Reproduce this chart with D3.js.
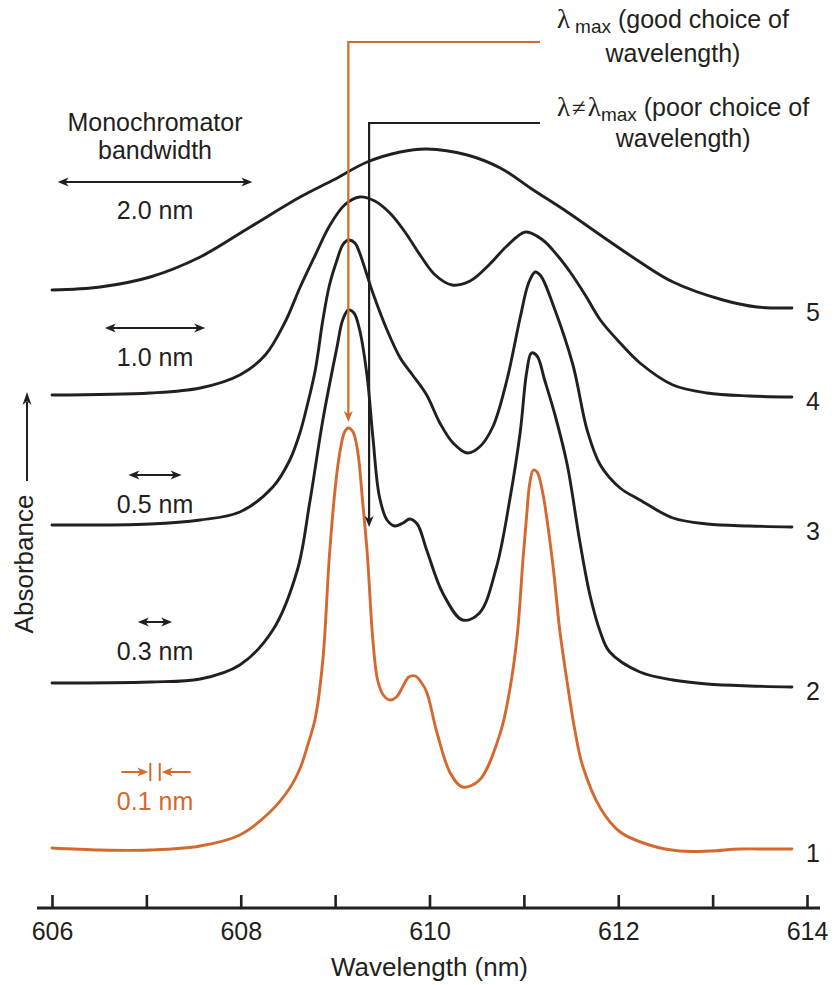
<!DOCTYPE html>
<html><head><meta charset="utf-8">
<script src="https://cdn.jsdelivr.net/npm/d3@7"></script>
<style>
body{margin:0;background:#fff}
svg{display:block}
text{font-family:"Liberation Sans",Arial,Helvetica,sans-serif;fill:#231f20}
</style>
</head><body>
<svg id="c" width="840" height="985"></svg>
<script>
// ---------------- DATA ----------------
const wavelengthTicks = [606, 607, 608, 609, 610, 611, 612, 613, 614];
const tickLabels = [606, 608, 610, 612, 614];
const xTitle = "Wavelength (nm)";
const yTitle = "Absorbance";
const curveNames = ["1", "2", "3", "4", "5"];
const bandwidthValues = [0.1, 0.3, 0.5, 1.0, 2.0];
const bandwidthLabels = ["0.1 nm", "0.3 nm", "0.5 nm", "1.0 nm", "2.0 nm"];
const lambdaMax = 609.14;
const lambdaPoor = 609.36;
const lambdaPoorTipA = 3.81;

// [wavelength nm, absorbance (arbitrary, offset)]
const curve1 = [[606.00,0.60],[606.51,0.58],[607.04,0.58],[607.57,0.62],[607.99,0.73],[608.31,0.96],[608.52,1.20],[608.63,1.40],[608.71,1.63],[608.79,1.90],[608.87,2.48],[608.94,3.53],[609.01,4.28],[609.06,4.61],[609.10,4.76],[609.14,4.80],[609.19,4.76],[609.24,4.56],[609.29,4.08],[609.34,3.55],[609.40,2.68],[609.45,2.28],[609.51,2.13],[609.58,2.08],[609.65,2.11],[609.72,2.22],[609.78,2.31],[609.85,2.32],[609.91,2.26],[609.97,2.16],[610.08,1.75],[610.22,1.35],[610.35,1.21],[610.53,1.28],[610.75,1.75],[610.85,2.18],[610.93,2.73],[610.99,3.48],[611.03,3.93],[611.06,4.23],[611.10,4.38],[611.14,4.36],[611.20,4.15],[611.31,3.41],[611.38,2.78],[611.46,2.25],[611.54,1.78],[611.62,1.43],[611.81,1.00],[612.02,0.76],[612.33,0.63],[612.65,0.57],[612.97,0.57],[613.29,0.59],[613.60,0.59],[613.84,0.59]];
const curve2 = [[606.00,2.25],[607.04,2.26],[607.57,2.29],[607.99,2.43],[608.34,2.78],[608.60,3.38],[608.73,4.05],[608.87,4.88],[609.02,5.61],[609.08,5.88],[609.14,5.98],[609.20,5.95],[609.26,5.78],[609.34,5.31],[609.40,4.71],[609.47,4.11],[609.55,3.88],[609.63,3.82],[609.72,3.85],[609.79,3.89],[609.87,3.84],[609.97,3.58],[610.14,3.15],[610.35,2.88],[610.53,2.95],[610.71,3.41],[610.85,4.08],[610.96,4.75],[611.03,5.36],[611.08,5.55],[611.14,5.52],[611.22,5.28],[611.33,4.93],[611.46,4.43],[611.59,3.68],[611.70,3.13],[611.81,2.76],[611.91,2.56],[612.23,2.36],[612.58,2.28],[612.94,2.24],[613.39,2.22],[613.84,2.21]];
const curve3 = [[606.00,3.83],[607.04,3.84],[607.57,3.88],[607.99,3.96],[608.34,4.21],[608.52,4.48],[608.63,4.76],[608.70,5.01],[608.79,5.38],[608.87,5.88],[608.94,6.23],[609.02,6.48],[609.08,6.63],[609.14,6.68],[609.21,6.65],[609.26,6.55],[609.40,6.15],[609.55,5.78],[609.69,5.50],[609.82,5.33],[609.97,5.13],[610.11,4.85],[610.25,4.65],[610.40,4.55],[610.53,4.61],[610.67,4.81],[610.82,5.28],[610.96,5.90],[611.05,6.25],[611.12,6.36],[611.18,6.32],[611.31,6.03],[611.52,5.43],[611.67,4.78],[611.81,4.43],[612.02,4.20],[612.23,4.08],[612.58,3.90],[612.94,3.84],[613.39,3.82],[613.84,3.81]];
const curve4 = [[606.00,5.13],[607.04,5.15],[607.57,5.20],[607.99,5.33],[608.26,5.53],[608.47,5.86],[608.63,6.21],[608.79,6.53],[608.94,6.82],[609.10,7.03],[609.26,7.11],[609.42,7.07],[609.58,6.95],[609.74,6.76],[609.90,6.53],[610.06,6.33],[610.24,6.23],[610.43,6.27],[610.64,6.44],[610.82,6.62],[611.02,6.76],[611.20,6.68],[611.36,6.52],[611.49,6.36],[611.65,6.13],[611.81,5.88],[612.02,5.65],[612.23,5.45],[612.58,5.23],[612.94,5.15],[613.39,5.12],[613.84,5.11]];
const curve5 = [[606.00,6.18],[606.51,6.21],[607.04,6.31],[607.57,6.51],[608.10,6.81],[608.63,7.11],[608.98,7.28],[609.34,7.46],[609.69,7.56],[609.97,7.59],[610.40,7.53],[610.75,7.40],[611.10,7.18],[611.46,6.96],[611.81,6.73],[612.23,6.46],[612.58,6.26],[613.11,6.08],[613.47,6.01],[613.84,6.00]];

// ---------------- DRAW ----------------
const BLACK = "#231f20", ORANGE = "#d4692f";
const svg = d3.select("#c");
const x = d3.scaleLinear().domain([606, 614]).range([52, 807]);
const y = d3.scaleLinear().domain([0, 9]).range([908, 8]);
const curves = [curve1, curve2, curve3, curve4, curve5];

function head(tx, ty, dir, color, len = 11, half = 4.5) {
  const c = Math.cos(dir), s = Math.sin(dir);
  const bx = tx - c * len, by = ty - s * len;
  const nx = -s * half, ny = c * half;
  const mx = tx - c * len * 0.72, my = ty - s * len * 0.72;
  svg.append("path")
    .attr("d", `M${tx},${ty}L${bx + nx},${by + ny}L${mx},${my}L${bx - nx},${by - ny}Z`)
    .attr("fill", color);
}

// axis
const axisY = y(0);
const axisG = svg.append("g").attr("transform", `translate(0,${axisY})`)
  .call(d3.axisBottom(x).tickValues(wavelengthTicks).tickSizeInner(-13).tickSizeOuter(0).tickPadding(14)
    .tickFormat(d => tickLabels.includes(d) ? String(d) : ""));
axisG.select(".domain").remove();
axisG.selectAll(".tick line").attr("stroke", BLACK).attr("stroke-width", 2.6);
axisG.selectAll(".tick text").attr("font-size", 25).attr("fill", BLACK)
  .style("font-family", '"Liberation Sans", Arial, sans-serif');
svg.append("line").attr("x1", x.range()[0] - 15).attr("x2", x.range()[1] + 13)
  .attr("y1", axisY).attr("y2", axisY).attr("stroke", BLACK).attr("stroke-width", 3);

svg.append("text").attr("x", x(610)).attr("y", 976).attr("text-anchor", "middle")
  .attr("font-size", 26).text(xTitle);

// y title + arrow
svg.append("text").attr("transform", "translate(33,564) rotate(-90)").attr("text-anchor", "middle")
  .attr("font-size", 26).text(yTitle);
svg.append("line").attr("x1", 27).attr("x2", 27).attr("y1", 481).attr("y2", 402)
  .attr("stroke", BLACK).attr("stroke-width", 2);
head(27, 392, -Math.PI / 2, BLACK, 13, 4.5);

// spectra
const line = d3.line().x(d => x(d[0])).y(d => y(d[1])).curve(d3.curveCatmullRom.alpha(0.5));
svg.selectAll("path.spec").data(curves).join("path").attr("class", "spec")
  .attr("d", line).attr("fill", "none")
  .attr("stroke", (d, i) => i === 0 ? ORANGE : BLACK)
  .attr("stroke-width", 2.9).attr("stroke-linejoin", "round").attr("stroke-linecap", "round");

// curve numbers
svg.selectAll("text.cn").data(curves).join("text").attr("class", "cn")
  .attr("x", 806).attr("y", d => y(d[d.length - 1][1]) + 13)
  .attr("font-size", 25).text((d, i) => curveNames[i]);

// monochromator bandwidth block
const cx = 155;
svg.append("text").attr("x", cx).attr("y", 131).attr("text-anchor", "middle").attr("font-size", 25).text("Monochromator");
svg.append("text").attr("x", cx).attr("y", 159).attr("text-anchor", "middle").attr("font-size", 25).text("bandwidth");
const pxPerNm = x(607) - x(606);
const arrowY = [772, 622, 475, 328, 182];
const labelY = [810, 660, 513, 366, 219];
bandwidthValues.forEach((bw, i) => {
  const color = i === 0 ? ORANGE : BLACK;
  svg.append("text").attr("x", cx).attr("y", labelY[i]).attr("text-anchor", "middle")
    .attr("font-size", 25).style("fill", color).text(bandwidthLabels[i]);
  if (i === 0) {
    const h = bw * pxPerNm / 2;
    const l = cx - h, r = cx + h;
    [l, r].forEach(bx => svg.append("line").attr("x1", bx).attr("x2", bx)
      .attr("y1", arrowY[i] - 9).attr("y2", arrowY[i] + 9).attr("stroke", ORANGE).attr("stroke-width", 2));
    svg.append("line").attr("x1", l - 29).attr("x2", l - 8).attr("y1", arrowY[i]).attr("y2", arrowY[i])
      .attr("stroke", ORANGE).attr("stroke-width", 2);
    head(l - 2, arrowY[i], 0, ORANGE, 11, 4.5);
    svg.append("line").attr("x1", r + 8).attr("x2", r + 31).attr("y1", arrowY[i]).attr("y2", arrowY[i])
      .attr("stroke", ORANGE).attr("stroke-width", 2);
    head(r + 2, arrowY[i], Math.PI, ORANGE, 11, 4.5);
  } else {
    const h = bw * pxPerNm / 2 + 3;
    svg.append("line").attr("x1", cx - h + 6).attr("x2", cx + h - 6).attr("y1", arrowY[i]).attr("y2", arrowY[i])
      .attr("stroke", color).attr("stroke-width", 2);
    head(cx - h, arrowY[i], Math.PI, color, 11, 4.5);
    head(cx + h, arrowY[i], 0, color, 11, 4.5);
  }
});

// lambda max leader (orange)
const xMax = x(lambdaMax), xPoor = x(lambdaPoor);
const peakY = y(d3.max(curve1, d => d[1]));
svg.append("path").attr("d", `M540,42H${xMax}V${peakY - 14}`).attr("fill", "none")
  .attr("stroke", ORANGE).attr("stroke-width", 2.2);
head(xMax, peakY - 6, Math.PI / 2, ORANGE, 11, 4.5);
// lambda poor leader (black)
const poorY = y(lambdaPoorTipA);
svg.append("path").attr("d", `M540,123H${xPoor}V${poorY - 8}`).attr("fill", "none")
  .attr("stroke", BLACK).attr("stroke-width", 2.2);
head(xPoor, poorY, Math.PI / 2, BLACK, 11, 4.5);

// annotation texts
const serif = '"Liberation Serif","Times New Roman",serif';
const t1 = svg.append("text").attr("x", 557).attr("y", 28).attr("font-size", 25);
t1.append("tspan").style("font-family", serif).attr("font-size", 27).text("λ");
t1.append("tspan").attr("dx", 5).attr("dy", 5).attr("font-size", 19).text("max");
t1.append("tspan").attr("dy", -5).text(" (good choice of");
const b1 = t1.node().getBBox();
svg.append("text").attr("x", b1.x + b1.width / 2).attr("y", 62).attr("text-anchor", "middle")
  .attr("font-size", 25).text("wavelength)");

const t2 = svg.append("text").attr("x", 557).attr("y", 116).attr("font-size", 25);
t2.append("tspan").style("font-family", serif).attr("font-size", 27).text("λ");
t2.append("tspan").style("font-family", serif).attr("dx", 2).text("≠");
t2.append("tspan").style("font-family", serif).attr("font-size", 27).attr("dx", 2).text("λ");
t2.append("tspan").attr("dy", 5).attr("font-size", 19).text("max");
t2.append("tspan").attr("dy", -5).text(" (poor choice of");
const b2 = t2.node().getBBox();
svg.append("text").attr("x", b2.x + b2.width / 2).attr("y", 147).attr("text-anchor", "middle")
  .attr("font-size", 25).text("wavelength)");
</script>
</body></html>
